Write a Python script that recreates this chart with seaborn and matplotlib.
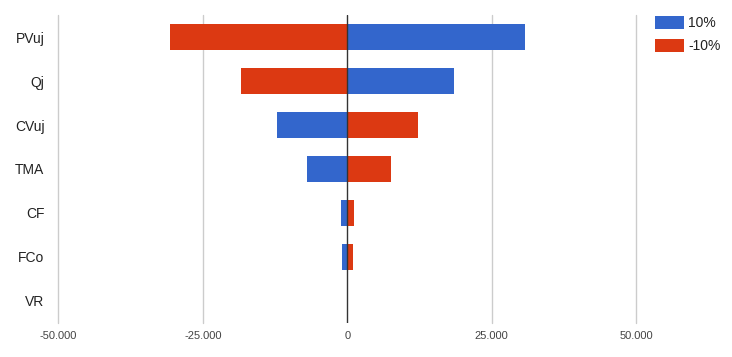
import matplotlib
matplotlib.use("Agg")
import matplotlib.pyplot as plt
import seaborn as sns
import pandas as pd
from matplotlib.ticker import FuncFormatter, FixedLocator

categories = ["PVuj", "Qj", "CVuj", "TMA", "CF", "FCo", "VR"]
series_names = ["10%", "-10%"]
values_plus10 = [30700, 18400, -12200, -7000, -1100, -950, 0]
values_minus10 = [-30700, -18400, 12200, 7500, 1100, 950, 0]
x_ticks = [-50000, -25000, 0, 25000, 50000]

colors = {"10%": "#3366cc", "-10%": "#dc3912"}

df = pd.DataFrame({
    "category": categories * 2,
    "series": [series_names[0]] * len(categories) + [series_names[1]] * len(categories),
    "value": values_plus10 + values_minus10,
})

sns.set_theme(style="white")
plt.rcParams["font.family"] = ["Liberation Sans", "DejaVu Sans"]

fig = plt.figure(figsize=(7.32, 3.57), dpi=100)
ax = fig.add_axes([58.3 / 732, 1 - 323 / 357, (636.3 - 58.3) / 732, (323 - 15) / 357])

sns.barplot(data=df, y="category", x="value", hue="series", order=categories,
            hue_order=series_names, palette=colors, dodge=False, width=0.61,
            orient="h", ax=ax, saturation=1, linewidth=0, zorder=3)

ax.set_xlim(-50000, 50000)
ax.set_ylim(len(categories) - 0.5, -0.5)
ax.xaxis.set_major_locator(FixedLocator(x_ticks))
ax.xaxis.set_major_formatter(FuncFormatter(lambda v, p: f"{int(v):,}".replace(",", ".")))
for t in x_ticks:
    if t != 0:
        ax.axvline(t, color="#cccccc", linewidth=1, zorder=1, clip_on=False)
ax.axvline(0, color="#333333", linewidth=1, zorder=4)

for s in ax.spines.values():
    s.set_visible(False)
ax.set_xlabel("")
ax.set_ylabel("")
ax.tick_params(axis="x", length=0, labelsize=8, labelcolor="#444444", pad=6)
ax.tick_params(axis="y", length=0, labelsize=10, labelcolor="#222222", pad=10)

handles, labels = ax.get_legend_handles_labels()
if ax.get_legend() is not None:
    ax.get_legend().remove()
fig.legend(handles, labels, loc="upper left", bbox_to_anchor=(648 / 732, 1 - 9 / 357),
           frameon=False, fontsize=10, handlelength=2.1, handleheight=1.05,
           labelspacing=0.65, handletextpad=0.3, borderpad=0, labelcolor="#222222")

fig.savefig("out.png", dpi=100)
